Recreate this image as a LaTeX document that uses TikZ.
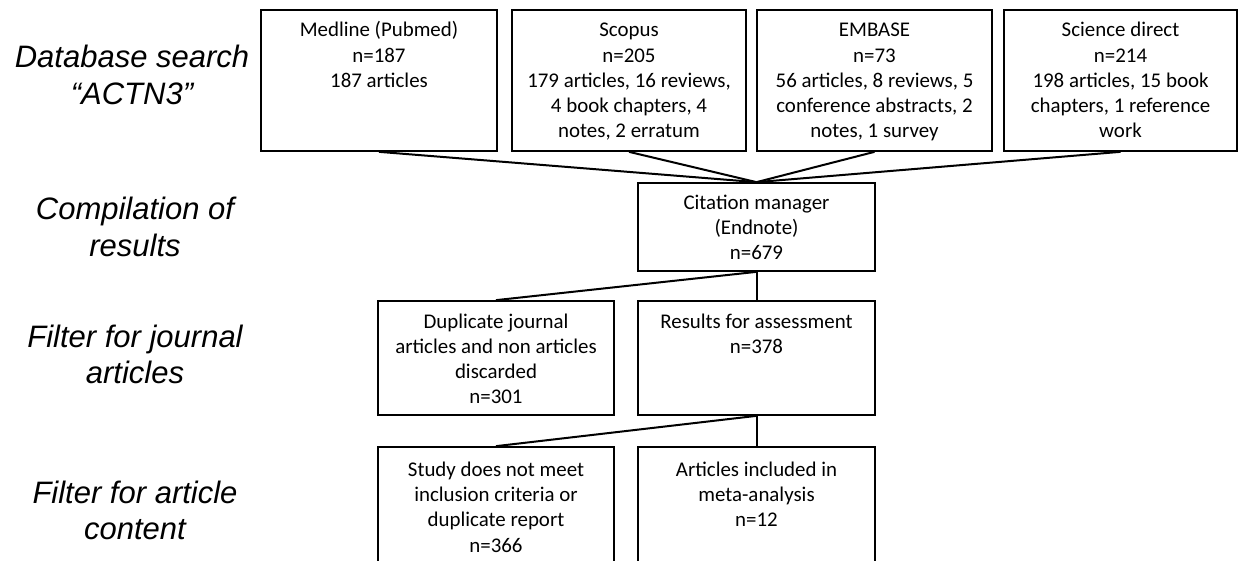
\documentclass[tikz,border=0pt]{standalone}
\usepackage{fontspec}
\setmainfont{Carlito}
\newfontfamily\labfont{Liberation Sans}
\tikzset{
  flowbox/.style={draw=black, line width=1.7pt, rectangle, inner sep=0pt},
  boxtext/.style={anchor=base, inner sep=0pt, font=\fontsize{20.9}{25.2}\selectfont},
  stagelabel/.style={anchor=base, inner sep=0pt, font=\labfont\itshape\fontsize{31}{36.5}\selectfont},
  link/.style={draw=black, line width=2pt}
}
\newcommand\fbx[7]{%
  \node[flowbox, minimum width={(#4-#2)*1pt}, minimum height={(#5-#3)*1pt}] (#1) at ({(#2+#4)/2},{(#3+#5)/2}) {};
  \node[boxtext] (#1t) at ({(#2+#4)/2},{#3+#6}) {\parbox[t]{230pt}{\centering #7}};
}
\begin{document}
\begin{tikzpicture}[x=1pt,y=-1pt]
\useasboundingbox (0,0) rectangle (1241,561);
\clip (0,0) rectangle (1241,561);
% stage labels
\node[stagelabel] (l1) at (132,68) {\parbox[t]{260pt}{\centering Database search\\“ACTN3”}};
\node[stagelabel] (l2) at (135,220) {\parbox[t]{260pt}{\centering Compilation of\\results}};
\node[stagelabel] (l3) at (135,347) {\parbox[t]{260pt}{\centering Filter for journal\\articles}};
\node[stagelabel] (l4) at (135,503) {\parbox[t]{260pt}{\centering Filter for article\\content}};
% boxes
\fbx{med}{261}{10}{497}{151}{27}{Medline (Pubmed)\\n=187\\187 articles}
\fbx{sco}{512}{10}{746}{151}{27}{Scopus\\n=205\\179 articles, 16 reviews,\\4 book chapters, 4\\notes, 2 erratum}
\fbx{emb}{757}{10}{992}{151}{27}{EMBASE\\n=73\\56 articles, 8 reviews, 5\\conference abstracts, 2\\notes, 1 survey}
\fbx{sd}{1004}{10}{1237}{151}{27}{Science direct\\n=214\\198 articles, 15 book\\chapters, 1 reference\\work}
\fbx{cit}{638}{183}{875}{271}{26.5}{Citation manager\\(Endnote)\\n=679}
\fbx{dup}{378}{301}{614}{415}{27}{Duplicate journal\\articles and non articles\\discarded\\n=301}
\fbx{res}{638}{301}{875}{415}{27}{Results for assessment\\n=378}
\fbx{stu}{378}{447}{614}{566}{29.5}{Study does not meet\\inclusion criteria or\\duplicate report\\n=366}
\fbx{art}{638}{447}{875}{566}{29.5}{Articles included in\\meta-analysis\\n=12}
% connectors
\draw[link] (med.south) -- (cit.north);
\draw[link] (sco.south) -- (cit.north);
\draw[link] (emb.south) -- (cit.north);
\draw[link] (sd.south) -- (cit.north);
\draw[link] (cit.south) -- (dup.north);
\draw[link] (cit.south) -- (res.north);
\draw[link] (res.south) -- (stu.north);
\draw[link] (res.south) -- (art.north);
\end{tikzpicture}
\end{document}
